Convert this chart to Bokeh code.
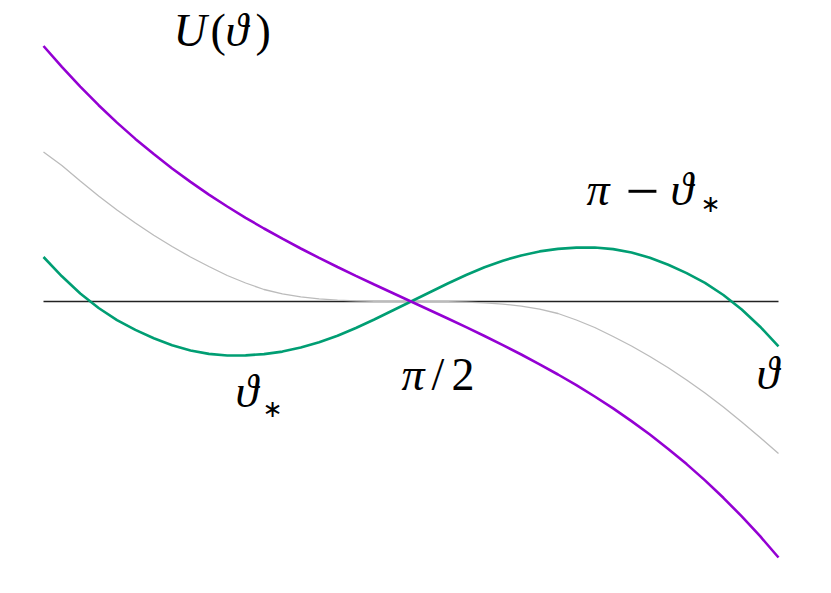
from bokeh.plotting import figure
from bokeh.models import Range1d
from bokeh.embed import file_html
from bokeh.resources import INLINE
from bokeh.core.properties import value

# angle grid (degrees) and curve values
theta_deg = [0, 4.5, 9, 13.5, 18, 22.5, 27, 31.5, 36, 40.5, 45, 49.5, 54, 58.5, 63, 67.5,
             72, 76.5, 81, 85.5, 90, 94.5, 99, 103.5, 108, 112.5, 117, 121.5, 126, 130.5,
             135, 139.5, 144, 148.5, 153, 157.5, 162, 166.5, 171, 175.5, 180]
u_purple = [2.555, 2.347, 2.149, 1.963, 1.789, 1.626, 1.474, 1.33, 1.196, 1.069, 0.95,
            0.837, 0.73, 0.628, 0.53, 0.436, 0.345, 0.257, 0.17, 0.085, 0.0,
            -0.085, -0.17, -0.257, -0.345, -0.436, -0.53, -0.628, -0.73, -0.837, -0.95,
            -1.069, -1.196, -1.33, -1.474, -1.626, -1.789, -1.963, -2.149, -2.347, -2.56]
u_gray = [1.495, 1.36, 1.205, 1.055, 0.915, 0.785, 0.663, 0.55, 0.445, 0.35, 0.26,
          0.185, 0.12, 0.076, 0.046, 0.026, 0.013, 0.006, 0.002, 0.0005, 0.0,
          -0.0005, -0.002, -0.006, -0.013, -0.026, -0.046, -0.076, -0.12, -0.185, -0.26,
          -0.35, -0.445, -0.55, -0.663, -0.785, -0.915, -1.055, -1.205, -1.36, -1.52]
u_green = [0.445, 0.252, 0.08, -0.065, -0.186, -0.284, -0.368, -0.438, -0.49, -0.524, -0.54,
           -0.539, -0.526, -0.501, -0.461, -0.408, -0.343, -0.265, -0.18, -0.09, 0.0,
           0.09, 0.18, 0.265, 0.343, 0.408, 0.461, 0.501, 0.526, 0.539, 0.54,
           0.524, 0.49, 0.438, 0.368, 0.284, 0.186, 0.065, -0.08, -0.252, -0.448]

W, H = 815, 577
# layout mapping (canvas pixels -> data)
X0, X1, Y0, SY = 43.0, 778.0, 301.0, 100.0
DPP = 180.0 / (X1 - X0)


def to_data(xp, yp):
    return ((xp - X0) * DPP, (Y0 - yp) / SY)


xl, yt = to_data(0, 0)
xr, yb = to_data(W, H)

p = figure(width=W, height=H, output_backend="svg", toolbar_location=None,
           x_range=Range1d(xl, xr), y_range=Range1d(yb, yt),
           x_axis_type=None, y_axis_type=None, min_border=0,
           outline_line_color=None, background_fill_color="white",
           border_fill_color="white")
p.xgrid.visible = False
p.ygrid.visible = False

p.line([theta_deg[0], theta_deg[-1]], [0, 0], line_color="#222222", line_width=1.3)
p.line(theta_deg, u_gray, line_color="#BBBBBB", line_width=1.3)
p.line(theta_deg, u_green, line_color="#009E73", line_width=2.6)
p.line(theta_deg, u_purple, line_color="#9400D3", line_width=2.6)

SERIF = "Liberation Serif"
labels = [
    # text, left px, baseline px, size, style
    ("U", 173, 30, 46, "italic"),
    ("(", 210, 30, 46, "normal"),
    ("ϑ", 225, 30, 46, "italic"),
    (")", 255, 30, 46, "normal"),
    ("π", 586, 189, 46, "italic"),
    ("−", 625, 191, 60, "normal"),
    ("ϑ", 670, 189, 46, "italic"),
    ("ϑ", 235, 391, 46, "italic"),
    ("π", 401, 374, 46, "italic"),
    ("/", 431, 374, 46, "normal"),
    ("2", 451, 374, 46, "normal"),
    ("ϑ", 756, 373, 46, "italic"),
]
for t, xp, yp, sz, st in labels:
    x, y = to_data(xp, yp)
    p.text(x=[x], y=[y], text=[t], text_font=value(SERIF), text_font_style=st,
           text_font_size=f"{sz}px", text_color="black",
           text_align="left", text_baseline="alphabetic")

# subscript asterisks
for xp, yp in [(710, 203), (272, 408)]:
    x, y = to_data(xp, yp)
    p.text(x=[x], y=[y], text=["∗"], text_font=value("DejaVu Sans"),
           text_font_size="24px", text_color="black",
           text_align="center", text_baseline="middle")

open("out.html", "w").write(file_html(p, INLINE))
